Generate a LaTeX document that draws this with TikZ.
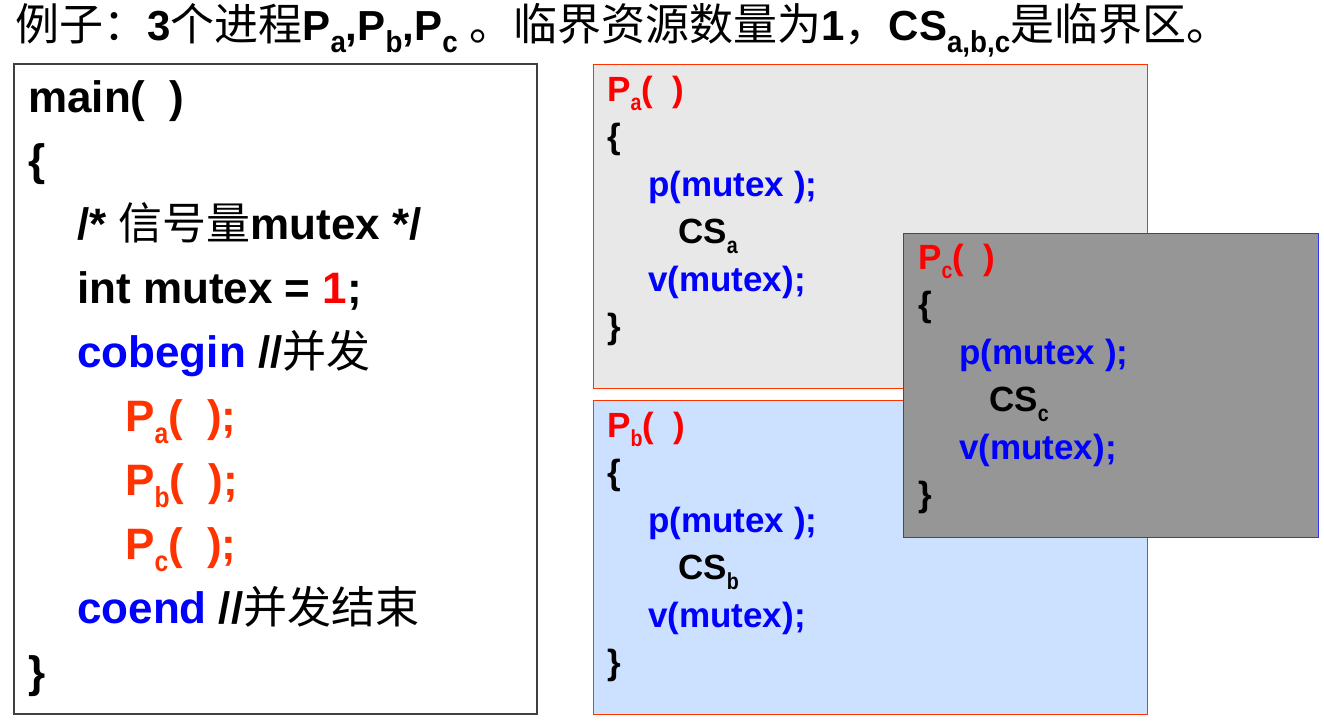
\documentclass[tikz,border=0pt]{standalone}
\usepackage{fontspec}
\setmainfont{Liberation Sans}
\newfontfamily\cjk{Noto Sans CJK SC}
\newcommand{\zh}[1]{{\cjk\mdseries #1}}
\newcommand{\sbs}[1]{\raisebox{-0.28em}{\scalebox{0.56}[0.66]{#1}}}
\newcommand{\tsbs}[1]{\raisebox{-0.3em}{\scalebox{0.66}[0.72]{#1}}}
\definecolor{codeblue}{RGB}{0,0,255}
\definecolor{procred}{RGB}{255,51,0}
\definecolor{hdrred}{RGB}{255,0,0}
\definecolor{boxgray}{RGB}{232,232,232}
\definecolor{boxblue}{RGB}{204,224,255}
\definecolor{darkbox}{RGB}{150,150,150}
\definecolor{cborder}{RGB}{51,51,255}

\begin{document}
\begin{tikzpicture}[x=1pt,y=-1pt,
  code/.style={anchor=base west,inner sep=0pt,font=\fontsize{44}{44}\selectfont\bfseries},
  pcode/.style={anchor=base west,inner sep=0pt,font=\fontsize{35}{35}\selectfont\bfseries}]
  \useasboundingbox (0,0) rectangle (1324,724);

  % 标题
  \node[anchor=base west,inner sep=0pt,font=\fontsize{42}{42}\selectfont] (title) at (15,40)
    {\zh{\fontsize{44}{44}\selectfont 例子：}\textbf{3}\zh{\fontsize{44}{44}\selectfont 个进程}\textbf{P\tsbs{a},P\tsbs{b},P\tsbs{c}} \zh{\fontsize{44}{44}\selectfont 。临界资源数量为}\textbf{1}\zh{\fontsize{44}{44}\selectfont ，}\textbf{CS\tsbs{a,b,c}}\zh{\fontsize{44}{44}\selectfont 是临界区。}};

  % 主程序
  \draw[black!75,line width=1.3pt] (14,64) rectangle (537,714);
  \node[code] (main)  at (28,112)    {main(~~)};
  \node[code] (mopen) at (28,175.9)  {\{};
  \node[code] (mcom)  at (77,239.8)  {/* \zh{信号量}mutex */};
  \node[code] (mint)  at (77,303.7)  {int mutex = \textcolor{hdrred}{1};};
  \node[code] (mcob)  at (77,367.6)  {\textcolor{codeblue}{cobegin} //\zh{并发}};
  \node[code,procred] (ma) at (125,431.5) {P\sbs{a}(~~);};
  \node[code,procred] (mb) at (125,495.4) {P\sbs{b}(~~);};
  \node[code,procred] (mc) at (125,559.3) {P\sbs{c}(~~);};
  \node[code] (mcoe)  at (77,623.2)  {\textcolor{codeblue}{coend} //\zh{并发结束}};
  \node[code] (mend)  at (28,687.1)  {\}};

  % 进程 Pa
  \draw[procred,fill=boxgray,line width=1pt] (593,64) rectangle (1147,388);
  \node[pcode,hdrred]  (pa)    at (607,101)   {P\sbs{a}(~~)};
  \node[pcode]         (aopen) at (607,148.5) {\{};
  \node[pcode,codeblue](ap)    at (648,196)   {p(mutex );};
  \node[pcode]         (acs)   at (678,243.5) {CS\sbs{a}};
  \node[pcode,codeblue](av)    at (648,291)   {v(mutex);};
  \node[pcode]         (aend)  at (607,338.5) {\}};

  % 进程 Pb
  \draw[procred,fill=boxblue,line width=1pt] (593,400) rectangle (1147,714);
  \node[pcode,hdrred]  (pb)    at (607,437)   {P\sbs{b}(~~)};
  \node[pcode]         (bopen) at (607,484.5) {\{};
  \node[pcode,codeblue](bp)    at (648,532)   {p(mutex );};
  \node[pcode]         (bcs)   at (678,579.5) {CS\sbs{b}};
  \node[pcode,codeblue](bv)    at (648,627)   {v(mutex);};
  \node[pcode]         (bend)  at (607,674.5) {\}};

  % 进程 Pc，盖在上面
  \draw[cborder,fill=darkbox,line width=1pt] (903,233) rectangle (1318,537);
  \node[pcode,hdrred]  (pc)    at (918,269)   {P\sbs{c}(~~)};
  \node[pcode]         (copen) at (918,316.5) {\{};
  \node[pcode,codeblue](cp)    at (959,364)   {p(mutex );};
  \node[pcode]         (ccs)   at (989,411.5) {CS\sbs{c}};
  \node[pcode,codeblue](cv)    at (959,459)   {v(mutex);};
  \node[pcode]         (cend)  at (918,506.5) {\}};
\end{tikzpicture}
\end{document}
